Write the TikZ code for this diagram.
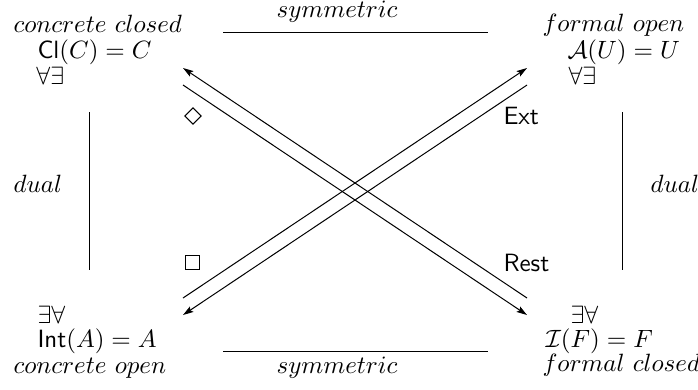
\documentclass[tikz,border=0pt]{standalone}
\usepackage{amsmath,amssymb}
\usetikzlibrary{arrows.meta}
\begin{document}
\begin{tikzpicture}[x=0.4pt,y=-0.4pt,
  lbl/.style={inner sep=0pt, anchor=base west},
  mid/.style={inner sep=0pt, anchor=base},
  plain/.style={line width=0.4pt},
  symb/.style={draw, line width=0.4pt, inner sep=0pt, minimum size=4.6pt},
  arr/.style={line width=0.4pt,-{Stealth[length=4.2pt,width=2.6pt,inset=0.8pt]}}]
\useasboundingbox (0,0) rectangle (698,389);
% corner labels
\node[lbl] (cc)   at (13,32)  {$concrete\ closed$};
\node[lbl] (clc)  at (37,58)  {$\mathsf{Cl}(C)=C$};
\node[lbl] (ae1)  at (36,84)  {$\forall\exists$};
\node[lbl] (fo)   at (542,31) {$formal\ open$};
\node[lbl] (au)   at (567,58) {$\mathcal{A}(U)=U$};
\node[lbl] (ae2)  at (568,84) {$\forall\exists$};
\node[lbl] (ea1)  at (37,323) {$\exists\forall$};
\node[lbl] (inta) at (37,347) {$\mathsf{Int}(A)=A$};
\node[lbl] (co)   at (13,373) {$concrete\ open$};
\node[lbl] (ea2)  at (570,323) {$\exists\forall$};
\node[lbl] (ifx)  at (545,347) {$\mathcal{I}(F)=F$};
\node[lbl] (fc)   at (542,371) {$formal\ closed$};
% edge labels
\node[mid] (symt) at (337,17)  {$symmetric$};
\node[mid] (symb) at (337,373) {$symmetric$};
\node[lbl] (dl)   at (13,192)  {$dual$};
\node[lbl] (dr)   at (650,192) {$dual$};
\node[symb, rotate=45] (dia) at (193,116) {};
\node[symb, minimum size=5.6pt] (box) at (192,262) {};
\node[lbl] (ext)  at (503,124) {$\mathsf{Ext}$};
\node[lbl] (rest) at (503,271) {$\mathsf{Rest}$};
% connector end points
\coordinate (ht1) at (223,32);  \coordinate (ht2) at (488,32);
\coordinate (hb1) at (223,351); \coordinate (hb2) at (488,351);
\coordinate (vl1) at (89,112);  \coordinate (vl2) at (89,270);
\coordinate (vr1) at (622,112); \coordinate (vr2) at (622,270);
\coordinate (tl1) at (183,68);  \coordinate (tl2) at (183,85);
\coordinate (tr1) at (527,68);  \coordinate (tr2) at (527,85);
\coordinate (bl1) at (183,298); \coordinate (bl2) at (183,315);
\coordinate (br1) at (527,298); \coordinate (br2) at (527,315);
\draw[plain] (ht1) -- (ht2);
\draw[plain] (hb1) -- (hb2);
\draw[plain] (vl1) -- (vl2);
\draw[plain] (vr1) -- (vr2);
\draw[arr] (br1) -- (tl1);
\draw[arr] (tl2) -- (br2);
\draw[arr] (bl1) -- (tr1);
\draw[arr] (tr2) -- (bl2);
\end{tikzpicture}
\end{document}
